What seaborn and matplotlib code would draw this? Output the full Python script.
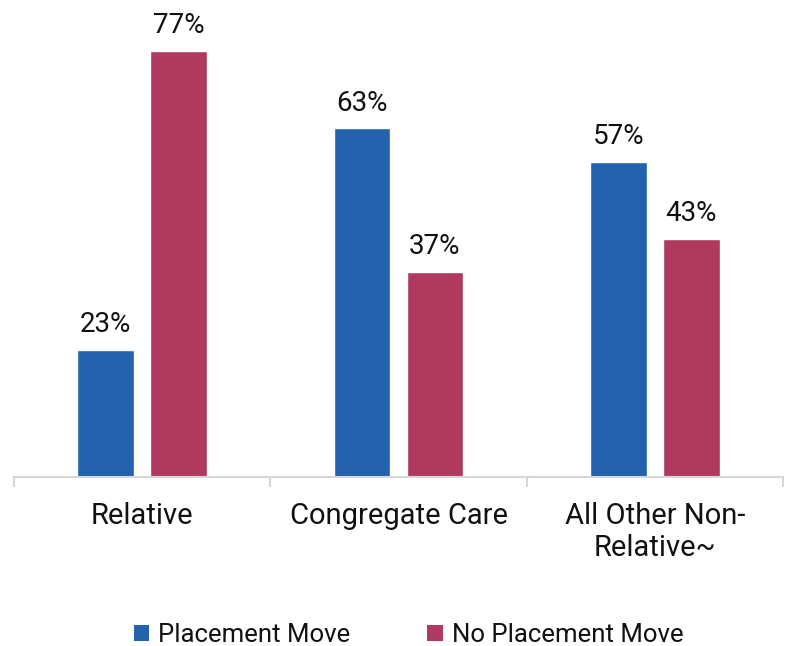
import matplotlib
matplotlib.use('Agg')
import matplotlib.pyplot as plt
import seaborn as sns
import pandas as pd
from matplotlib.patches import Patch

categories = ['Relative', 'Congregate Care', 'All Other Non-\nRelative~']
series = ['Placement Move', 'No Placement Move']
placement_move = [23, 63, 57]
no_placement_move = [77, 37, 43]
colors = ['#2262AE', '#B0395F']

df = pd.DataFrame({
    'category': categories * 2,
    'series': [series[0]] * 3 + [series[1]] * 3,
    'value': placement_move + no_placement_move,
})

sns.set_theme(style='white')
plt.rcParams['font.family'] = ['Roboto', 'DejaVu Sans']

fig = plt.figure(figsize=(7.91, 6.46), dpi=100)
ax = fig.add_axes([14 / 791, (646 - 477) / 646, (783 - 14) / 791, 477 / 646])

sns.barplot(data=df, x='category', y='value', hue='series', palette=colors,
            width=0.568, gap=0.22, saturation=1, ax=ax, legend=False)

for cont in ax.containers:
    ax.bar_label(cont, fmt='%.0f%%', padding=8.5, fontsize=20, color='#111111')

ax.set_xlim(-0.5, 2.5)
ax.set_ylim(0, 86.2)
ax.set_xlabel('')
ax.set_ylabel('')
ax.set_yticks([])
for s in ['left', 'top', 'right']:
    ax.spines[s].set_visible(False)
ax.spines['bottom'].set_color('#D6D6D6')
ax.spines['bottom'].set_linewidth(1.5)

ax.set_xticks([-0.5, 0.5, 1.5, 2.5], minor=True)
ax.tick_params(axis='x', which='minor', direction='out', length=7, width=1.5,
               color='#D6D6D6', bottom=True)
ax.tick_params(axis='x', which='major', length=0, pad=18, labelsize=21,
               labelcolor='#111111')
for lbl in ax.get_xticklabels():
    lbl.set_linespacing(1.2)

handles = [Patch(facecolor=c, edgecolor='none') for c in colors]
fig.legend(handles, series, loc='center', bbox_to_anchor=(408.5 / 791, 1 - 635 / 646),
           ncol=2, frameon=False, fontsize=18.5, handlelength=0.6, handleheight=0.6,
           handletextpad=0.35, columnspacing=3.0, labelcolor='#111111')

plt.savefig('out.png', dpi=100)
plt.close()
